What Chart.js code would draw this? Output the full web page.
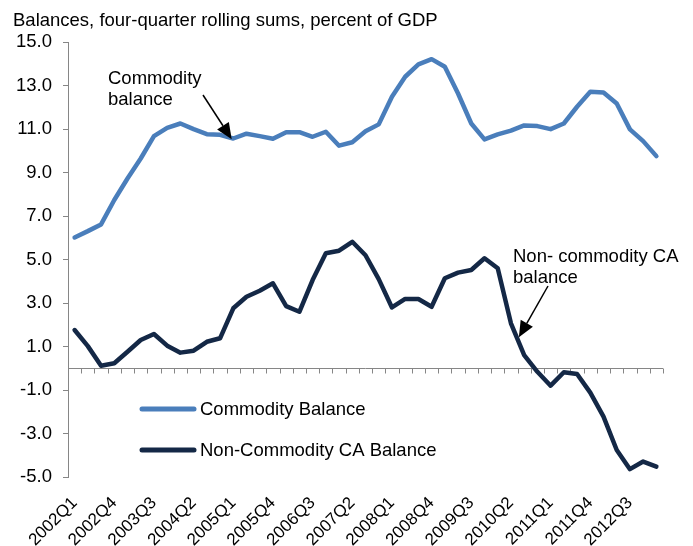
<!DOCTYPE html>
<html>
<head>
<meta charset="utf-8">
<script src="https://cdn.jsdelivr.net/npm/chart.js@4"></script>
<style>
  html, body { margin: 0; padding: 0; background: #fff; }
  #wrap { width: 693px; height: 546px; }
</style>
</head>
<body>
<div id="wrap"><canvas id="balanceChart" width="693" height="546"></canvas></div>
<script>
const quarters = [
    '2002Q1', '2002Q2', '2002Q3', '2002Q4', '2003Q1', '2003Q2', '2003Q3', '2003Q4',
    '2004Q1', '2004Q2', '2004Q3', '2004Q4', '2005Q1', '2005Q2', '2005Q3', '2005Q4',
    '2006Q1', '2006Q2', '2006Q3', '2006Q4', '2007Q1', '2007Q2', '2007Q3', '2007Q4',
    '2008Q1', '2008Q2', '2008Q3', '2008Q4', '2009Q1', '2009Q2', '2009Q3', '2009Q4',
    '2010Q1', '2010Q2', '2010Q3', '2010Q4', '2011Q1', '2011Q2', '2011Q3', '2011Q4',
    '2012Q1', '2012Q2', '2012Q3', '2012Q4', '2013Q1'
];

const commodityBalance = [
    6.02, 6.31, 6.62, 7.74, 8.73, 9.65, 10.68, 11.06, 11.26, 11.0, 10.77, 10.74,
    10.57, 10.79, 10.68, 10.56, 10.86, 10.86, 10.65, 10.88, 10.24, 10.4, 10.9, 11.22,
    12.49, 13.41, 13.98, 14.22, 13.87, 12.64, 11.26, 10.53, 10.76, 10.93, 11.17, 11.14,
    11.0, 11.26, 12.03, 12.72, 12.69, 12.18, 10.99, 10.45, 9.76
];

const nonCommodityBalance = [
    1.76, 1.02, 0.12, 0.23, 0.76, 1.30, 1.58, 1.04, 0.72, 0.81, 1.22, 1.38,
    2.76, 3.29, 3.57, 3.91, 2.86, 2.60, 4.06, 5.29, 5.41, 5.82, 5.2, 4.1,
    2.80, 3.19, 3.19, 2.83, 4.14, 4.40, 4.52, 5.06, 4.60, 2.07, 0.61, -0.16,
    -0.80, -0.18, -0.26, -1.12, -2.22, -3.76, -4.64, -4.29, -4.52
];

const seriesNames = ['Commodity Balance', 'Non-Commodity CA Balance'];
const seriesColors = ['#4A7EBB', '#142846'];

const chartTitle = 'Balances, four-quarter rolling sums, percent of GDP';
const yMin = -5, yMax = 15, yStep = 2;

const FONT = 'Arial, "Liberation Sans", sans-serif';
const AXIS_GREY = '#868686';

// zero line with category tick marks (axis crosses at 0, labels stay low)
const zeroAxis = {
    id: 'zeroAxis',
    beforeDatasetsDraw(chart) {
        const ctx = chart.ctx;
        const x = chart.scales.x, y = chart.scales.y;
        const y0 = Math.round(y.getPixelForValue(0)) + 0.5;
        ctx.save();
        ctx.strokeStyle = AXIS_GREY;
        ctx.lineWidth = 1;
        ctx.beginPath();
        ctx.moveTo(chart.chartArea.left, y0);
        ctx.lineTo(chart.chartArea.right, y0);
        for (let i = 0; i <= quarters.length; i++) {
            const px = Math.round(x.getPixelForValue(i - 0.5)) + 0.5;
            ctx.moveTo(px, y0);
            ctx.lineTo(px, y0 + 5);
        }
        ctx.stroke();
        ctx.restore();
    }
};

function arrow(ctx, x1, y1, x2, y2) {
    const ang = Math.atan2(y2 - y1, x2 - x1);
    const head = 16, half = 7;
    const bx = x2 - head * Math.cos(ang), by = y2 - head * Math.sin(ang);
    ctx.beginPath();
    ctx.moveTo(x1, y1);
    ctx.lineTo(bx, by);
    ctx.stroke();
    ctx.beginPath();
    ctx.moveTo(x2, y2);
    ctx.lineTo(bx + half * Math.sin(ang), by - half * Math.cos(ang));
    ctx.lineTo(bx - half * Math.sin(ang), by + half * Math.cos(ang));
    ctx.closePath();
    ctx.fill();
}

const notes = {
    id: 'notes',
    afterDraw(chart) {
        const ctx = chart.ctx;
        const x = chart.scales.x, y = chart.scales.y;
        const area = chart.chartArea;
        ctx.save();
        ctx.font = '18.5px ' + FONT;
        ctx.fillStyle = '#000';
        ctx.strokeStyle = '#000';
        ctx.lineWidth = 1.5;
        ctx.textAlign = 'left';
        ctx.textBaseline = 'alphabetic';

        // Commodity balance note
        ctx.fillText('Commodity', 108, 84);
        ctx.fillText('balance', 108, 105);
        arrow(ctx, 203, 95, x.getPixelForValue(11.88), y.getPixelForValue(10.54));

        // Non-commodity note
        ctx.fillText('Non- commodity CA', 513, 262);
        ctx.fillText('balance', 513, 283);
        arrow(ctx, 548, 286, x.getPixelForValue(33.6), y.getPixelForValue(1.43));

        // legend inside plot
        ctx.textBaseline = 'middle';
        chart.data.datasets.forEach((ds, i) => {
            const ly = 409 + i * 41;
            ctx.strokeStyle = ds.borderColor;
            ctx.lineWidth = 5;
            ctx.lineCap = 'round';
            ctx.beginPath();
            ctx.moveTo(area.left + 74, ly);
            ctx.lineTo(area.left + 126, ly);
            ctx.stroke();
            ctx.fillStyle = '#000';
            ctx.fillText(ds.label, area.left + 132, ly + 1);
        });
        ctx.restore();
    }
};

new Chart(document.getElementById('balanceChart'), {
    type: 'line',
    data: {
        labels: quarters,
        datasets: [{
            label: seriesNames[0],
            data: commodityBalance,
            borderColor: seriesColors[0],
            backgroundColor: seriesColors[0],
            borderWidth: 4.5,
            pointRadius: 0,
            tension: 0,
            borderCapStyle: 'round',
            borderJoinStyle: 'round'
        }, {
            label: seriesNames[1],
            data: nonCommodityBalance,
            borderColor: seriesColors[1],
            backgroundColor: seriesColors[1],
            borderWidth: 4.5,
            pointRadius: 0,
            tension: 0,
            borderCapStyle: 'round',
            borderJoinStyle: 'round'
        }]
    },
    options: {
        responsive: false,
        animation: false,
        layout: {
            padding: { top: 10, left: 13, right: 30, bottom: 0 }
        },
        scales: {
            x: {
                type: 'category',
                offset: true,
                grid: { display: false },
                border: { display: false },
                afterFit: function(scale) { scale.height = 69; },
                ticks: {
                    autoSkip: false,
                    maxRotation: 45,
                    minRotation: 45,
                    padding: 8,
                    color: '#000',
                    font: { family: FONT, size: 17 },
                    callback: function(value, index) {
                        return index % 3 === 0 ? this.getLabelForValue(value) : '';
                    }
                }
            },
            y: {
                min: yMin,
                max: yMax,
                afterFit: function(scale) { scale.width = 55; },
                border: { display: true, color: AXIS_GREY, width: 1 },
                grid: {
                    display: true,
                    drawOnChartArea: false,
                    drawTicks: true,
                    tickLength: 5,
                    color: AXIS_GREY
                },
                ticks: {
                    stepSize: yStep,
                    padding: 11,
                    color: '#000',
                    font: { family: FONT, size: 18.5 },
                    callback: function(v) { return v.toFixed(1); }
                }
            }
        },
        plugins: {
            legend: { display: false },
            tooltip: { enabled: false },
            title: {
                display: true,
                text: chartTitle,
                align: 'start',
                color: '#000',
                font: { family: FONT, size: 18.5, weight: 'normal' },
                padding: { top: 0, bottom: 10 }
            }
        }
    },
    plugins: [zeroAxis, notes]
});
</script>
</body>
</html>
